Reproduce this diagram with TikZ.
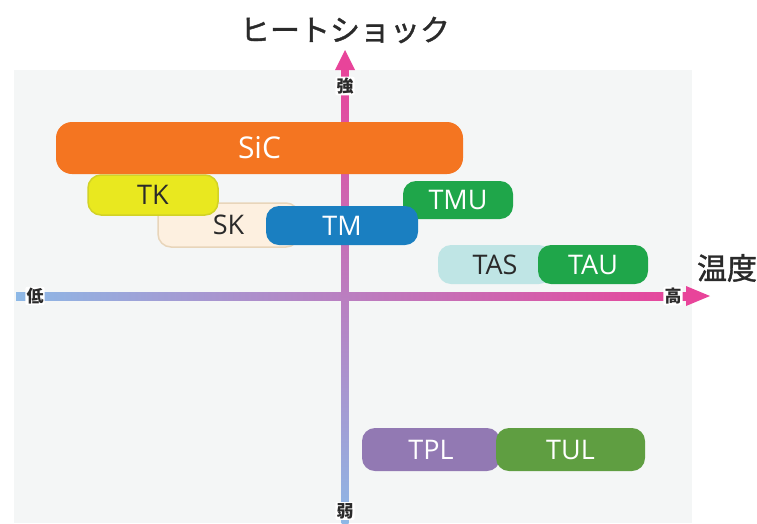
\documentclass[tikz,border=0pt]{standalone}
\usepackage{fontspec}
\setmainfont{Open Sans}
\newfontfamily\jp{Noto Sans CJK JP}
\newfontfamily\jpm[FakeBold=1.3]{Noto Sans CJK JP}
\definecolor{panel}{HTML}{F4F6F6}
\definecolor{axblue}{HTML}{8DB8E6}
\definecolor{axpink}{HTML}{E8449A}
\definecolor{cSiC}{HTML}{F47521}
\definecolor{cTK}{HTML}{E9E81F}
\definecolor{cTKb}{HTML}{D2D226}
\definecolor{cSK}{HTML}{FDF0E0}
\definecolor{cSKb}{HTML}{E8D5BA}
\definecolor{cTM}{HTML}{1A7FC1}
\definecolor{cGreen}{HTML}{1FA64A}
\definecolor{cTAS}{HTML}{BFE5E5}
\definecolor{cTPL}{HTML}{9279B3}
\definecolor{cTUL}{HTML}{5F9E41}
\definecolor{txt}{HTML}{2A2A2A}
\begin{document}
\begin{tikzpicture}[x=1pt,y=-1pt,
  box/.style={rounded corners=13pt, inner sep=0pt, font=\fontsize{27}{27}\selectfont, text=white},
  darktxt/.style={text=txt},
  axlab/.style={fill=white, rounded corners=2pt, inner sep=1.2pt, text=txt, font=\jp\bfseries\fontsize{17}{17}\selectfont},
  bigtitle/.style={text=txt, font=\jpm\fontsize{30}{30}\selectfont}]
\useasboundingbox (0,0) rectangle (757,523);
\fill[white] (0,0) rectangle (757,523);
\fill[panel] (14,70) rectangle (692,523);
% axes
\shade[left color=axblue, right color=axpink] (16,292) rectangle (687,300);
\fill[axpink] (686,286) -- (710,296) -- (686,306) -- cycle;
\shade[bottom color=axblue, top color=axpink] (341.5,523) rectangle (348.5,69);
\fill[axpink] (335,70) -- (345,50) -- (355,70) -- cycle;
\node[axlab] (lo) at (35,296) {低};
\node[axlab] (hi) at (673,296) {高};
\node[axlab] (st) at (345,86) {強};
\node[axlab] (wk) at (345,511) {弱};
\node[bigtitle] (title) at (345,30) {ヒートショック};
\node[bigtitle] (temp) at (727,268) {温度};
% boxes
\node[box, darktxt, fill=cSK, draw=cSKb, line width=1.5pt, minimum width=141pt, minimum height=44pt] (sk) at (228.5,225) {SK};
\node[box, darktxt, fill=cTK, draw=cTKb, line width=1.5pt, minimum width=130pt, minimum height=40pt] (tk) at (153,195) {TK};
\node[box, fill=cSiC, minimum width=407pt, minimum height=52pt, rounded corners=16pt, font=\fontsize{30}{30}\selectfont] (sic) at (259.5,148) {SiC};
\node[box, fill=cGreen, minimum width=110pt, minimum height=38pt] (tmu) at (458,200) {TMU};
\node[box, fill=cTM, minimum width=152pt, minimum height=39pt] (tm) at (342,225.5) {TM};
\node[box, darktxt, fill=cTAS, minimum width=114pt, minimum height=39pt] (tas) at (495,264.5) {TAS};
\node[box, fill=cGreen, minimum width=110pt, minimum height=39pt] (tau) at (593,264.5) {TAU};
\node[box, fill=cTPL, minimum width=138pt, minimum height=43pt] (tpl) at (431,449.5) {TPL};
\node[box, fill=cTUL, minimum width=149pt, minimum height=43pt] (tul) at (570.5,449.5) {TUL};
\end{tikzpicture}
\end{document}
